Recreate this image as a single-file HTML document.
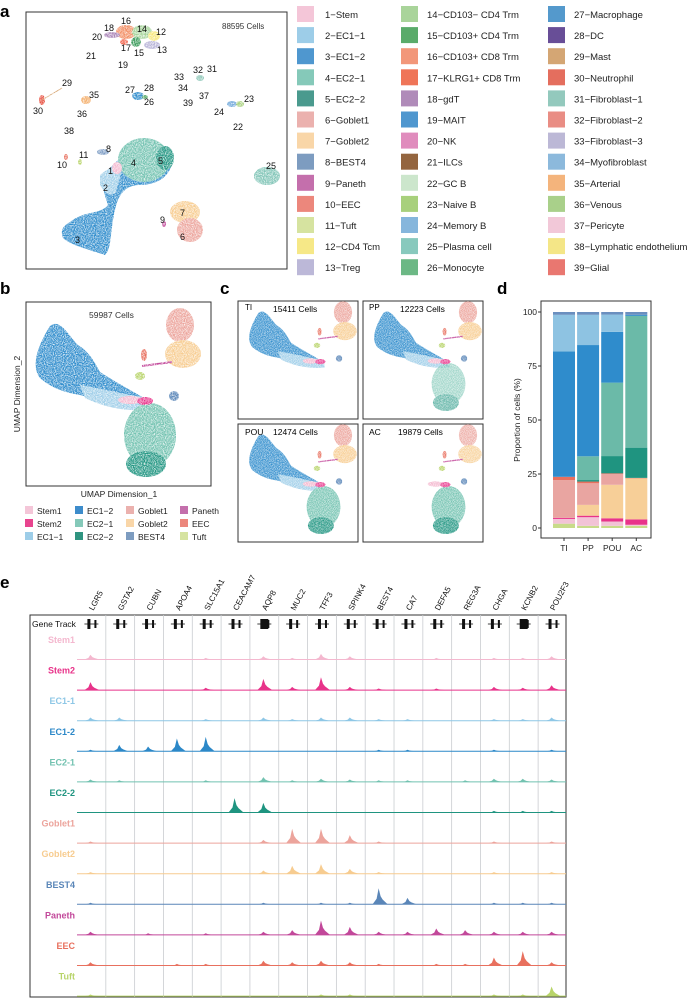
<!DOCTYPE html>
<html><head><meta charset="utf-8"><style>
body{margin:0;background:#fff;width:692px;height:999px;overflow:hidden;font-family:"Liberation Sans",Arial,sans-serif}
svg text{font-family:"Liberation Sans",Arial,sans-serif}
</style></head><body>
<svg id="fig" width="692" height="999" viewBox="0 0 692 999">
<defs>
<filter id="sp" x="-20%" y="-20%" width="140%" height="140%"><feTurbulence type="fractalNoise" baseFrequency="0.9" numOctaves="1" result="n"/><feColorMatrix in="n" type="matrix" values="0 0 0 0 1 0 0 0 0 1 0 0 0 0 1 0 0 0 -2.2 1.4" result="m"/><feComposite in="SourceGraphic" in2="m" operator="out"/></filter>
<g id="ec1">
<path d="M50,326 C60,318 68,335 78,345 C90,352 96,365 100,372 C120,385 140,395 150,402 L146,410 C120,406 100,400 80,395 C60,392 48,385 40,378 C32,368 35,350 50,326Z" fill="#2f8ccc"/>
<path d="M80,385 C100,388 125,395 150,398 L152,410 C130,412 105,408 85,398Z" fill="#9dcde8"/>
</g>
<g id="ec2">
<ellipse cx="150" cy="435" rx="26" ry="32" fill="#72c2b0"/>
<ellipse cx="146" cy="464" rx="20" ry="13" fill="#1f9480"/>
</g>
<g id="gob">
<ellipse cx="180" cy="325" rx="14" ry="17" fill="#eca49c"/>
<ellipse cx="183" cy="354" rx="18" ry="14" fill="#f7cc90"/>
</g>
<g id="oth">
<ellipse cx="130" cy="400" rx="12" ry="4" fill="#f4b8cf"/>
<ellipse cx="145" cy="401" rx="8" ry="4" fill="#e8338a"/>
<path d="M142,366 L172,362" stroke="#c2489a" stroke-width="2"/>
<ellipse cx="144" cy="355" rx="3" ry="6" fill="#e8705e"/>
<ellipse cx="140" cy="376" rx="5" ry="4" fill="#b8d46a"/>
<ellipse cx="174" cy="396" rx="5" ry="5" fill="#5a86b8"/>
</g>
</defs>

<!-- Panel a -->
<text x="0" y="17" font-size="17" font-weight="bold">a</text>
<rect x="26" y="12" width="261" height="257" fill="none" stroke="#333" stroke-width="1"/>
<text x="222" y="29" font-size="8" fill="#333">88595 Cells</text>
<g filter="url(#sp)">
<path d="M70,222 C85,210 100,215 108,205 C103,190 100,180 108,170 L118,160 C125,150 130,142 140,140 C158,138 172,148 172,162 C170,178 155,185 140,185 C125,185 118,195 115,210 C110,230 112,248 105,255 C90,250 70,245 63,238 C60,230 63,226 70,222Z" fill="#2f8ccc"/>
<path d="M100,175 C108,168 116,165 122,170 L116,192 C110,198 104,192 100,185Z" fill="#9dcde8"/>
<ellipse cx="144" cy="160" rx="26" ry="22" fill="#72c2b0"/>
<ellipse cx="165" cy="158" rx="9" ry="12" fill="#1f9480"/>
<ellipse cx="117" cy="168" rx="5" ry="6" fill="#f4b8cf"/>
<ellipse cx="185" cy="212" rx="15" ry="11" fill="#f7cc90"/>
<ellipse cx="190" cy="230" rx="13" ry="12" fill="#eca49c"/>
<ellipse cx="164" cy="224" rx="2" ry="3" fill="#c2489a"/>
<ellipse cx="267" cy="176" rx="13" ry="9" fill="#7fc4b6"/>
<ellipse cx="103" cy="152" rx="6" ry="3" fill="#7c9cc4"/>
<ellipse cx="80" cy="162" rx="2" ry="3" fill="#b8d46a"/>
<ellipse cx="66" cy="157" rx="2" ry="3" fill="#e8705e"/>
<ellipse cx="126" cy="32" rx="10" ry="7" fill="#f28a5e"/>
<ellipse cx="142" cy="32" rx="10" ry="7" fill="#a6d49a"/>
<ellipse cx="154" cy="36" rx="6" ry="5" fill="#f6e87a"/>
<ellipse cx="152" cy="45" rx="8" ry="4" fill="#b8b4d8"/>
<ellipse cx="136" cy="42" rx="5" ry="5" fill="#3a9a5a"/>
<ellipse cx="112" cy="35" rx="8" ry="3" fill="#ab86b8"/>
<ellipse cx="124" cy="42" rx="4" ry="3" fill="#f06048"/>
<ellipse cx="138" cy="96" rx="6" ry="4" fill="#2f8ccc"/>
<ellipse cx="145" cy="97" rx="3" ry="2" fill="#5aaa6a"/>
<ellipse cx="42" cy="100" rx="3" ry="5" fill="#e84a3a"/>
<path d="M42,100 L62,88" stroke="#d4a06a" stroke-width="1"/>
<ellipse cx="86" cy="100" rx="5" ry="4" fill="#f4ae6a"/>
<ellipse cx="200" cy="78" rx="4" ry="3" fill="#8ec7b8"/>
<ellipse cx="232" cy="104" rx="5" ry="3" fill="#6aa4d8"/>
<ellipse cx="240" cy="104" rx="4" ry="3" fill="#a6d07a"/>
</g>
<g font-size="9" fill="#111">
<text x="121" y="24">16</text><text x="104" y="31">18</text><text x="137" y="32">14</text><text x="156" y="35">12</text><text x="92" y="40">20</text><text x="157" y="53">13</text><text x="121" y="51">17</text><text x="134" y="56">15</text><text x="86" y="59">21</text><text x="118" y="68">19</text>
<text x="62" y="86">29</text><text x="33" y="114">30</text><text x="89" y="98">35</text><text x="77" y="117">36</text><text x="64" y="134">38</text>
<text x="125" y="93">27</text><text x="144" y="91">28</text><text x="144" y="105">26</text>
<text x="193" y="73">32</text><text x="207" y="72">31</text><text x="174" y="80">33</text><text x="178" y="91">34</text><text x="199" y="99">37</text><text x="183" y="106">39</text>
<text x="244" y="102">23</text><text x="214" y="115">24</text><text x="233" y="130">22</text><text x="266" y="169">25</text>
<text x="106" y="152">8</text><text x="79" y="158">11</text><text x="57" y="168">10</text><text x="131" y="166">4</text><text x="158" y="164">5</text><text x="108" y="174">1</text><text x="103" y="191">2</text><text x="75" y="243">3</text><text x="180" y="216">7</text><text x="160" y="223">9</text><text x="180" y="240">6</text>
</g>
<g id="legend-a" font-size="9.5" fill="#222"></g>

<!-- Panel b -->
<text x="0" y="294" font-size="17" font-weight="bold">b</text>
<rect x="26" y="302" width="185" height="184" fill="none" stroke="#333"/>
<text x="89" y="318" font-size="8.5" fill="#333">59987 Cells</text>
<g filter="url(#sp)"><use href="#ec1"/><use href="#ec2"/><use href="#gob"/><use href="#oth"/></g>
<text x="20" y="394" font-size="8.5" transform="rotate(-90 20 394)" text-anchor="middle" fill="#222">UMAP Dimension_2</text>
<text x="119" y="497" font-size="8.5" text-anchor="middle" fill="#222">UMAP Dimension_1</text>
<g id="legend-b" font-size="8.5" fill="#222"></g>

<!-- Panel c -->
<text x="220" y="294" font-size="17" font-weight="bold">c</text>
<g><rect x="238" y="301" width="120" height="118" fill="none" stroke="#333"/><g transform="translate(226,101) scale(0.65)" filter="url(#sp)"><use href="#ec1"/><use href="#gob"/><use href="#oth"/></g><text x="245" y="310" font-size="8">TI</text><text x="273" y="312" font-size="8.5">15411 Cells</text></g>
<g><rect x="363" y="301" width="120" height="118" fill="none" stroke="#333"/><g transform="translate(351,101) scale(0.65)" filter="url(#sp)"><use href="#ec1"/><use href="#ec2" opacity="0.7"/><use href="#gob"/><use href="#oth"/></g><text x="369" y="310" font-size="8">PP</text><text x="400" y="312" font-size="8.5">12223 Cells</text></g>
<g><rect x="238" y="424" width="120" height="118" fill="none" stroke="#333"/><g transform="translate(226,224) scale(0.65)" filter="url(#sp)"><use href="#ec1"/><use href="#ec2"/><use href="#gob"/><use href="#oth"/></g><text x="245" y="435" font-size="8.5">POU</text><text x="273" y="435" font-size="8.5">12474 Cells</text></g>
<g><rect x="363" y="424" width="120" height="118" fill="none" stroke="#333"/><g transform="translate(351,224) scale(0.65)" filter="url(#sp)"><use href="#ec2"/><use href="#gob" opacity="0.9"/><use href="#oth"/></g><text x="369" y="435" font-size="8.5">AC</text><text x="398" y="435" font-size="8.5">19879 Cells</text></g>

<!-- Panel d -->
<text x="497" y="294" font-size="17" font-weight="bold">d</text>
<g id="panel-d"></g>

<!-- Panel e -->
<text x="0" y="588" font-size="17" font-weight="bold">e</text>
<g id="panel-e"></g>
</svg>
<script>
const NS='http://www.w3.org/2000/svg';
function mk(tag,attrs,parent,txt){const e=document.createElementNS(NS,tag);for(const k in attrs)e.setAttribute(k,attrs[k]);if(txt!=null)e.textContent=txt;parent.appendChild(e);return e;}

const clusterNames=["1−Stem","2−EC1−1","3−EC1−2","4−EC2−1","5−EC2−2","6−Goblet1","7−Goblet2","8−BEST4","9−Paneth","10−EEC","11−Tuft","12−CD4 Tcm","13−Treg","14−CD103− CD4 Trm","15−CD103+ CD4 Trm","16−CD103+ CD8 Trm","17−KLRG1+ CD8 Trm","18−gdT","19−MAIT","20−NK","21−ILCs","22−GC B","23−Naive B","24−Memory B","25−Plasma cell","26−Monocyte","27−Macrophage","28−DC","29−Mast","30−Neutrophil","31−Fibroblast−1","32−Fibroblast−2","33−Fibroblast−3","34−Myofibroblast","35−Arterial","36−Venous","37−Pericyte","38−Lymphatic endothelium","39−Glial"];
const clusterColors=["#f4c6d8","#9dcde8","#4f97cf","#85c9b9","#4a9a8e","#ebb1ae","#f9d6a8","#7d9cc0","#c46fac","#ec877c","#d6e3a0","#f6e887","#bcb8d8","#a9d49a","#5aab6a","#f2977a","#ef7558","#b08bb9","#4f97cf","#e08cbd","#94653f","#cce6cc","#a8d07c","#86b6dc","#88c9bd","#6cb885","#5499cc","#684e97","#d4a674","#e46e5e","#93c9bd","#e98d84","#bcb8d6","#8cb9dc","#f4b47c","#a9d08a","#f2c8d8","#f4e687","#e97770"];
const la=document.getElementById('legend-a');
const colX=[297,401,548],txX=[325,427,574];
clusterNames.forEach((n,i)=>{const c=Math.floor(i/13),r=i%13;const y=6+r*21.1;
 const s=mk('rect',{x:colX[c],y:y,width:17,height:16,fill:clusterColors[i]},la);
 
 
 const t=mk('text',{x:txX[c],y:y+12},la,n);
 
 
});

const ctNames=["Stem1","Stem2","EC1−1","EC1−2","EC2−1","EC2−2","Goblet1","Goblet2","BEST4","Paneth","EEC","Tuft"];
const ctColors=["#f4c6d8","#e8448f","#9dcde8","#3d8ccb","#85c9b9","#2f9480","#ebb1ae","#f9d6a8","#7d9cc0","#c46fac","#ec877c","#d6e3a0"];
const lb=document.getElementById('legend-b');
const bx=[25,75,126,180];
ctNames.forEach((n,i)=>{const c=Math.floor(i/3),r=i%3;const y=506+r*13;
 const s=mk('rect',{x:bx[c],y:y,width:8,height:8,fill:ctColors[i]},lb);
 
 
 const t=mk('text',{x:bx[c]+12,y:y+8},lb,n);
 
 
});

const tissues=["TI","PP","POU","AC"];
const stackTypes=["Tuft","Stem1","Stem2","Goblet2","Goblet1","EEC","EC2-2","EC2-1","EC1-2","EC1-1","BEST4"];
const stackColors=["#c8db8a","#f2c3d6","#e8338a","#f7cf98","#e9a5a1","#e8705e","#1f9480","#6bbaa8","#2f8ccc","#8ec3e2","#6a8fbf"];
const propTI=[2,2.2,0.5,0,17.5,1.5,0,0,58,17,1.3];
const propPP=[1,4,0.7,5,10,0.8,0.7,11,51.5,14,1.3];
const propPOU=[1,2,1.5,15.5,5,0.3,8,34,23.5,8,1.2];
const propAC=[1,0.5,2.5,19,0,0.2,14,61,0.5,0,1.3];
const props=[propTI,propPP,propPOU,propAC];
const yTicks=[0,25,50,75,100];
(function(){
 const g=document.getElementById('panel-d');
 const y0=528,yk=2.16, y=v=>y0-v*yk;
 const x=i=>553+i*24.1, bw=22;
 mk('rect',{x:541,y:301,width:110,height:237,fill:'none',stroke:'#333'},g);
 props.forEach((arr,i)=>{let acc=0;arr.forEach((v,k)=>{if(v<=0)return;
   const r=mk('rect',{x:x(i),y:y(acc+v),width:bw,height:v*yk,fill:stackColors[k]},g);
   
   
   acc+=v;});
  const t=mk('text',{x:x(i)+bw/2,y:551,'font-size':8.5,'text-anchor':'middle',fill:'#222'},g,tissues[i]);
  
  
  mk('line',{x1:x(i)+bw/2,x2:x(i)+bw/2,y1:538,y2:541,stroke:'#333'},g);
 });
 yTicks.forEach(v=>{
  const t=mk('text',{x:537,y:y(v)+3,'font-size':8.5,'text-anchor':'end',fill:'#222'},g,String(v));
  
  
  mk('line',{x1:538,x2:541,y1:y(v),y2:y(v),stroke:'#333'},g);
 });
 const tt=mk('text',{x:520,y:420,'font-size':8.5,'text-anchor':'middle',fill:'#222',transform:'rotate(-90 520 420)'},g,'Proportion of cells (%)');
 
 
})();

const genes=["LGR5","GSTA2","CUBN","APOA4","SLC15A1","CEACAM7","AQP8","MUC2","TFF3","SPINK4","BEST4","CA7","DEFA5","REG3A","CHGA","KCNB2","POU2F3"];
const tracks=["Stem1","Stem2","EC1-1","EC1-2","EC2-1","EC2-2","Goblet1","Goblet2","BEST4","Paneth","EEC","Tuft"];
const trackColors=["#f4b8cf","#e8338a","#8ec7e6","#2c88c8","#72c2b0","#1f9480","#eca49c","#f7cc90","#5a86b8","#c2489a","#e8705e","#b8d46a"];
const peakStem1=[.3,0,0,0,.1,0,.2,.1,.35,.2,0,0,.1,0,.1,.1,.2];
const peakStem2=[.5,0,0,0,.15,0,.7,.2,.8,.2,.1,0,.1,0,.2,.15,.3];
const peakEC11=[.2,.2,0,0,.1,0,.2,.1,.2,.2,.1,.1,0,0,.1,.1,.2];
const peakEC12=[.1,.4,.3,.8,.9,0,0,0,0,0,.1,.1,0,0,.1,0,.1];
const peakEC21=[.15,.1,0,0,.1,0,.3,.1,.2,.15,.1,.1,0,.1,.2,.2,.15];
const peakEC22=[0,0,0,0,0,.9,.6,0,0,0,0,0,0,0,.1,.1,.1];
const peakGob1=[.1,0,0,0,0,0,.2,.9,.9,.5,.1,0,0,0,.1,0,.1];
const peakGob2=[.1,0,0,0,0,0,.2,.5,.6,.3,.1,0,0,0,.1,0,.1];
const peakBEST4=[.1,0,0,0,0,0,.1,0,.1,.1,1,.4,0,0,.1,.1,.1];
const peakPaneth=[.2,0,.1,0,.1,0,.2,.3,.9,.5,.2,.2,.4,.3,.2,.2,.2];
const peakEEC=[.2,0,0,.1,.1,0,.3,.2,.3,.2,.1,0,.1,.1,.5,.9,.2];
const peakTuft=[.1,0,0,0,0,0,0,0,.1,.1,0,0,0,0,.1,.1,.6];
const peaks=[peakStem1,peakStem2,peakEC11,peakEC12,peakEC21,peakEC22,peakGob1,peakGob2,peakBEST4,peakPaneth,peakEEC,peakTuft];
(function(){
 const g=document.getElementById('panel-e');
 const x0=77,cw=28.82, xc=i=>x0+cw*(i+0.5);
 mk('rect',{x:30,y:615,width:536,height:382,fill:'none',stroke:'#333'},g);
 for(let i=1;i<genes.length;i++) mk('line',{x1:x0+cw*i,x2:x0+cw*i,y1:615,y2:997,stroke:'#c9ccd0','stroke-width':0.8},g);
 const gt=mk('text',{x:32,y:627,'font-size':8.5,fill:'#111'},g,'Gene Track');
 
 
 genes.forEach((n,i)=>{
  const t=mk('text',{x:xc(i)+2,y:611,'font-size':8,'text-anchor':'start',fill:'#111',transform:'rotate(-62 '+(xc(i)+2)+' 611)'},g,n);
  
  
  const cx=xc(i);
  mk('line',{x1:cx-7,x2:cx+7,y1:624,y2:624,stroke:'#111','stroke-width':0.8},g);
  const b=mk('rect',{x:cx-4,y:619,width:i==6||i==15?8:3,height:10,fill:'#111'},g);
  
  
  mk('rect',{x:cx+3,y:620,width:2,height:8,fill:'#111'},g);
 });
 tracks.forEach((n,r)=>{
  const ly=643+r*30.6, base=ly+16.5, col=trackColors[r];
  const t=mk('text',{x:75,y:ly,'font-size':9,'font-weight':'bold','text-anchor':'end',fill:col},g,n);
  
  
  const bl=mk('line',{x1:x0,x2:566,y1:base,y2:base,stroke:col,'stroke-width':1},g);
  
  
  peaks[r].forEach((h,i)=>{if(h<=0)return;
   const cx=xc(i), hh=h*16;
   const p=mk('path',{d:`M${cx-7},${base} L${cx-3},${base-hh*0.35} L${cx-1},${base-hh} L${cx+1},${base-hh*0.5} L${cx+3},${base-hh*0.3} L${cx+8},${base} Z`,fill:col},g);
   
   
  });
 });
})();
</script>
</body></html>
